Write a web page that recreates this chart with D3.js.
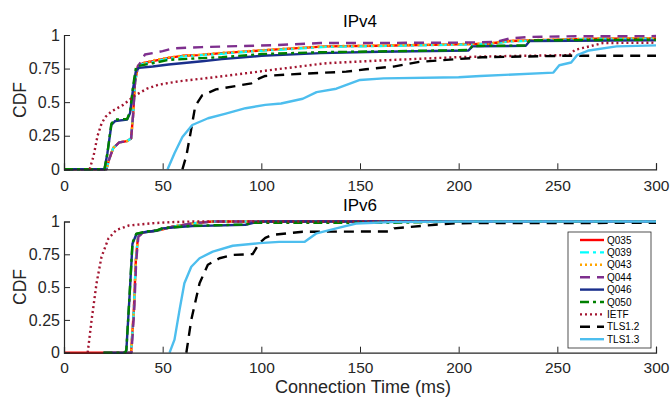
<!DOCTYPE html>
<html>
<head>
<meta charset="utf-8">
<script src="https://cdn.jsdelivr.net/npm/d3@7"></script>
<style>
  html, body { margin: 0; padding: 0; background: #fff; }
  svg { display: block; font-family: "Liberation Sans", Arial, Helvetica, sans-serif; }
  .tick-label { font-size: 15.5px; fill: #262626; }
</style>
</head>
<body>
<svg id="chart" width="671" height="397"></svg>
<script>
// ── data (ms, CDF) ──
const xTicks = [0, 50, 100, 150, 200, 250, 300];
const yTicks = [0, 0.25, 0.5, 0.75, 1];
const yTickLabels = ["0", "0.25", "0.5", "0.75", "1"];

const v4_Q035 = [[0,0],[21.5,0],[23,0.08],[25,0.16],[28,0.2],[32,0.21],[34,0.23],[35,0.4],[36,0.65],[37.5,0.77],[40,0.79],[45,0.805],[53,0.83],[60,0.845],[68,0.85],[80,0.865],[95,0.88],[108,0.893],[133,0.915],[160,0.92],[200,0.93],[215,0.935],[226,0.955],[250,0.965],[270,0.972],[300,0.975]];
const v4_Q039 = [[0,0],[21.5,0],[23,0.08],[25,0.16],[28,0.2],[32,0.21],[34,0.23],[35,0.4],[36,0.65],[37.5,0.77],[40,0.785],[45,0.8],[53,0.825],[60,0.84],[68,0.848],[80,0.86],[95,0.878],[108,0.89],[133,0.912],[160,0.918],[200,0.928],[215,0.933],[226,0.952],[250,0.963],[270,0.97],[300,0.973]];
const v4_Q043 = [[0,0],[21.5,0],[23,0.08],[25,0.16],[28,0.2],[32,0.21],[34,0.23],[35,0.4],[36,0.65],[37.5,0.77],[40,0.79],[45,0.81],[53,0.833],[60,0.847],[68,0.852],[80,0.868],[95,0.882],[108,0.895],[133,0.917],[160,0.922],[200,0.932],[215,0.937],[226,0.957],[250,0.967],[270,0.974],[300,0.977]];
const v4_Q044 = [[0,0],[21.5,0],[23,0.08],[25,0.16],[28,0.2],[32,0.21],[34,0.23],[35,0.4],[36,0.65],[37.5,0.77],[39,0.8],[41,0.855],[45,0.865],[50,0.88],[55,0.9],[70,0.91],[108,0.925],[130,0.94],[200,0.943],[219,0.948],[226,0.975],[236,0.986],[255,0.99],[300,0.992]];
const v4_Q046 = [[0,0],[20.5,0],[22,0.12],[24,0.33],[26,0.36],[32,0.37],[33.5,0.42],[35,0.6],[36.5,0.74],[38,0.755],[45,0.765],[53,0.78],[70,0.805],[80,0.82],[100,0.845],[108,0.85],[130,0.865],[160,0.875],[205,0.885],[207,0.915],[234,0.92],[236,0.955],[300,0.96]];
const v4_Q050 = [[0,0],[20.5,0],[22,0.12],[24,0.34],[26,0.37],[32,0.375],[33.5,0.43],[35,0.62],[36.5,0.76],[38,0.77],[45,0.79],[53,0.815],[70,0.828],[80,0.835],[100,0.858],[108,0.862],[130,0.872],[160,0.878],[205,0.888],[207,0.918],[234,0.922],[236,0.96],[300,0.965]];
const v4_IETF = [[13,0],[15,0.1],[17,0.25],[19,0.34],[21,0.39],[24,0.43],[30,0.48],[36,0.55],[42,0.6],[48,0.63],[58,0.655],[73,0.68],[92,0.715],[108,0.745],[133,0.79],[160,0.81],[199,0.835],[230,0.845],[256,0.85],[259,0.89],[262,0.9],[273,0.94],[300,0.943]];
const v4_TLS12 = [[60,0],[62,0.1],[64,0.26],[66.5,0.47],[70,0.55],[77,0.595],[87,0.62],[95,0.64],[98.7,0.675],[102,0.695],[121,0.712],[143,0.727],[153,0.745],[167,0.765],[180,0.8],[199,0.82],[212,0.834],[256,0.846],[300,0.846]];
const v4_TLS13 = [[52.5,0],[56,0.12],[60,0.24],[65,0.33],[73,0.38],[82,0.415],[92,0.455],[102,0.48],[110,0.49],[121,0.525],[128,0.575],[138,0.6],[150,0.665],[162,0.677],[200,0.685],[211,0.695],[248,0.72],[251,0.775],[257,0.795],[260,0.85],[266,0.885],[280,0.915],[300,0.923]];

const v6_Q035 = [[0,0],[34,0],[35.4,0.33],[36.4,0.7],[37.5,0.885],[40,0.915],[48.5,0.935],[55,0.96],[65,0.985],[75,1],[300,1]];
const v6_Q039 = [[30,0],[34,0],[35.4,0.33],[36.4,0.7],[37.5,0.885],[40,0.915],[48.5,0.935],[55,0.96],[65,0.985],[75,1],[300,1]];
const v6_Q043 = [[30,0],[34,0],[35.4,0.33],[36.4,0.7],[37.5,0.885],[40,0.915],[48.5,0.935],[55,0.96],[65,0.985],[75,1],[300,1]];
const v6_Q044 = [[30,0],[34.2,0],[35.6,0.33],[36.6,0.7],[37.7,0.885],[40,0.915],[48.5,0.935],[55,0.96],[65,0.985],[75,1],[300,1]];
const v6_Q046 = [[20,0],[31,0],[31.6,0.02],[33.3,0.45],[34.7,0.83],[36.7,0.905],[42,0.922],[47,0.93],[50,0.948],[65,0.965],[92,0.975],[96,0.99],[100,1],[300,1]];
const v6_Q050 = [[20,0],[31,0],[31.6,0.02],[33.3,0.46],[34.7,0.84],[36.7,0.908],[42,0.924],[47,0.932],[50,0.95],[65,0.967],[92,0.977],[96,0.99],[165,0.99],[200,1],[300,1]];
const v6_IETF = [[12,0],[14,0.25],[16.5,0.53],[19,0.73],[22.5,0.87],[26.5,0.935],[33,0.97],[45,0.987],[54,0.995],[65,1],[300,1]];
const v6_TLS12 = [[62,0],[64.5,0.25],[68.7,0.53],[72.9,0.67],[78.8,0.72],[85.5,0.745],[95.6,0.752],[99,0.835],[102,0.875],[105.7,0.898],[121,0.922],[165,0.924],[167.3,0.948],[188,0.975],[198,0.987],[300,0.99]];
const v6_TLS13 = [[53.5,0],[56,0.1],[58.6,0.33],[61,0.53],[64.5,0.655],[68.7,0.72],[75.4,0.77],[85.5,0.815],[99,0.835],[109,0.845],[122,0.845],[128,0.91],[138,0.948],[148,0.985],[166,0.995],[200,1],[300,1]];

const seriesNames = ["Q035", "Q039", "Q043", "Q044", "Q046", "Q050", "IETF", "TLS1.2", "TLS1.3"];
const ipv4Data = [v4_Q035, v4_Q039, v4_Q043, v4_Q044, v4_Q046, v4_Q050, v4_IETF, v4_TLS12, v4_TLS13];
const ipv6Data = [v6_Q035, v6_Q039, v6_Q043, v6_Q044, v6_Q046, v6_Q050, v6_IETF, v6_TLS12, v6_TLS13];

// ── styles ──
const styles = {
  "Q035":   { color: "#ff0000", dash: null },
  "Q039":   { color: "#00ffff", dash: "9,4,3,4" },
  "Q043":   { color: "#ffa500", dash: "2,3" },
  "Q044":   { color: "#7e2f8e", dash: "10,7" },
  "Q046":   { color: "#1a2f8c", dash: null },
  "Q050":   { color: "#008000", dash: "9,4,3,4" },
  "IETF":   { color: "#a2142f", dash: "2,3" },
  "TLS1.2": { color: "#000000", dash: "10,7" },
  "TLS1.3": { color: "#4dbeee", dash: null }
};

const axisColor = "#262626";
const svg = d3.select("#chart");
svg.append("rect").attr("width", 671).attr("height", 397).attr("fill", "#fff");

const x = d3.scaleLinear().domain([0, 300]).range([64, 656]);

const panels = [
  { title: "IPv4", data: ipv4Data, yRange: [169.3, 35], titleY: 27, tickY: 191, labelY: 100 },
  { title: "IPv6", data: ipv6Data, yRange: [352.7, 221.5], titleY: 211, tickY: 373, labelY: 287 }
];

panels.forEach((p, pi) => {
  const y = d3.scaleLinear().domain([0, 1]).range(p.yRange);
  const g = svg.append("g");
  const clipId = "clip" + pi;
  svg.append("clipPath").attr("id", clipId).append("rect")
    .attr("x", x(0) - 2).attr("y", y(1) - 2)
    .attr("width", x(300) - x(0) + 4).attr("height", y(0) - y(1) + 4);

  const line = d3.line().x(d => x(d[0])).y(d => y(d[1]));
  const lines = g.append("g").attr("clip-path", `url(#${clipId})`);
  p.data.forEach((pts, i) => {
    const st = styles[seriesNames[i]];
    lines.append("path")
      .attr("d", line(pts))
      .attr("fill", "none")
      .attr("stroke", st.color)
      .attr("stroke-width", 2.4)
      .attr("stroke-dasharray", st.dash)
      .attr("stroke-linejoin", "round");
  });

  // axes (MATLAB style, inward ticks, box off)
  const xAxis = d3.axisBottom(x).tickValues(xTicks).tickSize(-6).tickPadding(10).tickFormat(d3.format("d"));
  const xg = g.append("g").attr("transform", `translate(0,${y(0)})`).call(xAxis);
  const yAxis = d3.axisLeft(y).tickValues(yTicks).tickSize(-6).tickPadding(4).tickFormat((d, i) => yTickLabels[i]);
  const yg = g.append("g").attr("transform", `translate(${x(0)},0)`).call(yAxis);
  [xg, yg].forEach(a => {
    a.select(".domain").attr("stroke", axisColor).attr("stroke-width", 1.2);
    a.selectAll(".tick line").attr("stroke", axisColor);
    a.selectAll(".tick text").attr("class", "tick-label").attr("font-family", null).attr("font-size", null);
  });
  yg.selectAll(".tick text").style("font-size", "16px");
  xg.selectAll(".tick text").attr("y", null).attr("dy", null)
    .attr("y", p.tickY - y(0)).attr("dominant-baseline", "alphabetic");

  g.append("text")
    .attr("x", 360).attr("y", p.titleY)
    .attr("text-anchor", "middle")
    .attr("font-size", 17)
    .attr("fill", "#000")
    .text(p.title);

  g.append("text")
    .attr("transform", `translate(26,${p.labelY}) rotate(-90)`)
    .attr("text-anchor", "middle")
    .attr("font-size", 17.5)
    .attr("fill", axisColor)
    .text("CDF");
});

svg.append("text")
  .attr("x", 363).attr("y", 393)
  .attr("text-anchor", "middle")
  .attr("font-size", 18)
  .attr("fill", axisColor)
  .text("Connection Time (ms)");

// ── legend ──
const legend = svg.append("g").attr("transform", "translate(568,232)");
legend.append("rect")
  .attr("width", 83).attr("height", 116)
  .attr("fill", "#fff").attr("stroke", axisColor).attr("stroke-width", 0.8);
seriesNames.forEach((name, i) => {
  const st = styles[name];
  const ly = 8 + i * 12.4;
  legend.append("line")
    .attr("x1", 12).attr("x2", 36).attr("y1", ly).attr("y2", ly)
    .attr("stroke", st.color).attr("stroke-width", 2.4)
    .attr("stroke-dasharray", st.dash);
  legend.append("text")
    .attr("x", 39).attr("y", ly + 3.6)
    .attr("font-size", 10)
    .attr("fill", "#000")
    .text(name);
});
</script>
</body>
</html>
